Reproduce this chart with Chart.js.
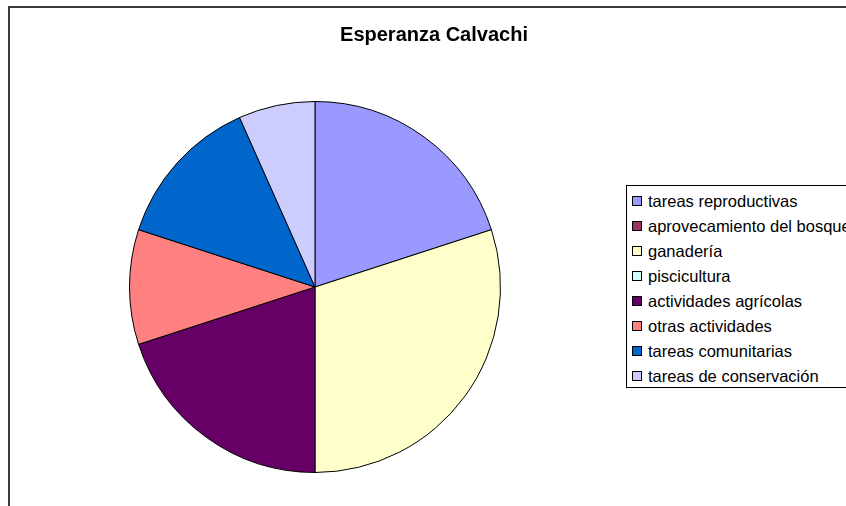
<!DOCTYPE html>
<html>
<head>
<meta charset="utf-8">
<script src="https://cdn.jsdelivr.net/npm/chart.js@4/dist/chart.umd.min.js"></script>
<style>
  html, body { margin: 0; padding: 0; background: #fff; overflow: hidden; }
  body { width: 846px; height: 506px; position: relative; font-family: "Liberation Sans", Arial, sans-serif; }
  #frame { position: absolute; left: 8px; top: 6px; width: 900px; height: 600px; border-left: 2px solid #3a3a3a; border-top: 2px solid #3a3a3a; box-sizing: border-box; }
  #wrap { position: absolute; left: 0; top: 0; width: 846px; height: 506px; }
  #title { position: absolute; left: 234px; width: 400px; top: 23px; text-align: center; font-weight: bold; font-size: 20px; color: #000; white-space: nowrap; }
  #legend { position: absolute; left: 626px; top: 185px; width: 260px; height: 203px; border: 1px solid #000; box-sizing: border-box; background: #fff; }
  .item { position: absolute; left: 5px; height: 20px; line-height: 20px; font-size: 16.5px; color: #000; white-space: nowrap; }
  .sw { display: inline-block; width: 8px; height: 8px; border: 1px solid #000; margin-right: 6px; vertical-align: 1px; }
</style>
</head>
<body>
<div id="frame"></div>
<div id="wrap"><canvas id="c" width="846" height="506"></canvas></div>
<div id="title">Esperanza Calvachi</div>
<div id="legend"></div>
<script>
const categories = ["tareas reproductivas", "aprovecamiento del bosque", "ganadería", "piscicultura", "actividades agrícolas", "otras actividades", "tareas comunitarias", "tareas de conservación"];
const values = [6, 0, 9, 0, 6, 3, 4, 2];
const colors = ["#9999FF", "#993366", "#FFFFCC", "#CCFFFF", "#660066", "#FF8080", "#0066CC", "#CCCCFF"];

const chart = new Chart(document.getElementById('c'), {
  type: 'pie',
  data: {
    labels: categories,
    datasets: [{
      data: values,
      backgroundColor: colors,
      borderColor: '#000',
      borderWidth: 1,
      borderAlign: 'center'
    }]
  },
  options: {
    responsive: false,
    animation: false,
    layout: { padding: { left: 129, right: 345, top: 101, bottom: 33 } },
    plugins: {
      legend: { display: false },
      title: { display: false },
      tooltip: { enabled: false }
    }
  }
});

const legend = document.getElementById('legend');
chart.data.labels.forEach((lab, i) => {
  const d = document.createElement('div');
  d.className = 'item';
  d.style.top = (5 + i * 25) + 'px';
  const s = document.createElement('span');
  s.className = 'sw';
  s.style.background = chart.data.datasets[0].backgroundColor[i];
  d.appendChild(s);
  d.appendChild(document.createTextNode(lab));
  legend.appendChild(d);
});
</script>
</body>
</html>
